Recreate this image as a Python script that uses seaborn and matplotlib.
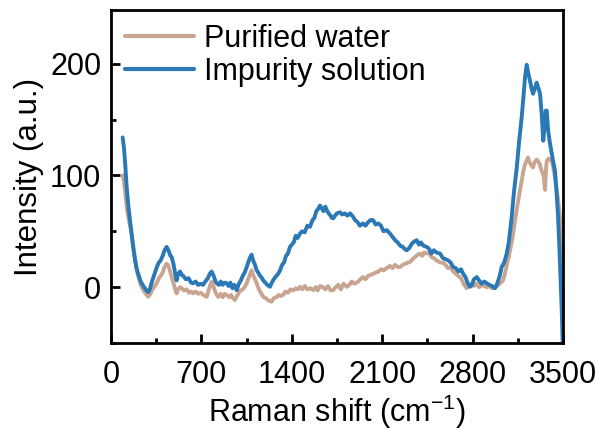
import numpy as np
import pandas as pd
import matplotlib
matplotlib.use("Agg")
import matplotlib.pyplot as plt
import seaborn as sns
from matplotlib.ticker import MultipleLocator

# ---- data ----
water_x = [90, 100, 110, 121, 135, 147, 160, 175, 190, 199, 215, 230, 250, 270, 288, 305, 320, 340, 354, 370,
           385, 400, 415, 431, 445, 460, 470, 485, 500, 508, 520, 535, 547, 565, 585, 605, 620, 636, 655, 675,
           695, 715, 741, 755, 768, 780, 795, 810, 830, 850, 865, 880, 896, 915, 930, 945, 960, 975, 990, 1005,
           1020, 1035, 1051, 1065, 1078, 1089, 1100, 1115, 1128, 1145, 1160, 1179, 1200, 1220, 1244, 1260, 1280,
           1300, 1315, 1333, 1350, 1370, 1390, 1410, 1430, 1445, 1464, 1480, 1500, 1520, 1545, 1566, 1585, 1600,
           1620, 1640, 1660, 1680, 1700, 1721, 1740, 1760, 1780, 1800, 1825, 1845, 1865, 1885, 1914, 1930, 1951,
           1970, 1990, 2010, 2029, 2050, 2070, 2090, 2110, 2135, 2160, 2180, 2200, 2220, 2238, 2260, 2280, 2300,
           2315, 2335, 2355, 2375, 2393, 2410, 2425, 2445, 2465, 2480, 2500, 2520, 2548, 2570, 2590, 2610, 2630,
           2650, 2670, 2690, 2710, 2730, 2754, 2770, 2790, 2810, 2830, 2850, 2870, 2890, 2910, 2930, 2950, 2970,
           2990, 3010, 3035, 3050, 3065, 3080, 3090, 3110, 3125, 3142, 3160, 3180, 3195, 3206, 3218, 3229, 3240,
           3255, 3268, 3280, 3295, 3306, 3320, 3335, 3350, 3361, 3368, 3374, 3390, 3400, 3412, 3425, 3438, 3450,
           3462, 3477, 3490, 3500]
water_y = [100, 95, 85, 72, 62, 55, 48, 35, 22, 15, 8, 2, -2.7, -6, -8.7, -6, -2, 1, 3.5, 8,
           10, 13, 18, 21, 19, 13, 9, 3, -3, -5.6, -2, 0, -1, -3, -2, -5, -4, -5.6, -4, -6,
           -5, -7, -8.7, -3, 2, 4.8, 0, -5, -8.7, -6, -9, -6, -7, -9, -7, -10, -11.6, -8, -5, -3,
           -2, 0, 3.5, 8, 12, 15, 11, 7, 3.5, -2, -5, -8.7, -10, -12, -13, -10, -9,
           -7, -8, -7, -4, -5, -2, -3, -1, -2, 0.3, -2, 1, -2, -1, -2.7, 0, -3,
           1, 0, -2, 1, -3, -2.7, 0, 2, -2, 3, 0.3, 2, 5, 3, 4.8, 7, 9,
           7, 10, 11, 12, 13, 14, 16, 15, 17, 19, 17, 20, 18, 18, 20, 21, 22,
           22.6, 25, 27, 29, 30, 28, 31, 30, 31, 27, 26, 24, 22, 22, 20, 17, 18,
           14, 12, 10, 8, 3, -1, 2, 3, 1, 3, 0, 2, 1, 0, 1, -1, 0,
           1, 3, 6, 12, 20, 27, 33, 45, 57, 69, 82, 95, 105, 110, 113, 116, 112,
           109, 107, 112, 114, 113, 110, 104, 100, 87, 105, 113, 115, 114, 113, 107, 98, 88,
           78, 63, 45, 25]

impurity_x = [90, 100, 110, 121, 135, 147, 160, 171, 185, 200, 210, 230, 250, 263, 275, 288, 300, 320, 340, 355,
              370, 385, 400, 415, 431, 445, 460, 470, 485, 500, 508, 520, 535, 547, 560, 580, 600, 620, 636, 655,
              675, 695, 713, 730, 750, 765, 780, 795, 810, 818, 835, 850, 865, 880, 896, 910, 925, 940, 955, 973,
              990, 1005, 1020, 1035, 1051, 1065, 1078, 1089, 1100, 1115, 1128, 1140, 1155, 1170, 1179, 1195, 1210,
              1231, 1245, 1260, 1280, 1295, 1309, 1325, 1340, 1355, 1370, 1386, 1400, 1415, 1430, 1445, 1464, 1480,
              1500, 1520, 1541, 1560, 1575, 1590, 1605, 1618, 1630, 1645, 1660, 1670, 1685, 1700, 1710, 1721, 1735,
              1750, 1773, 1790, 1810, 1830, 1851, 1874, 1890, 1910, 1928, 1951, 1970, 1990, 2010, 2029, 2050, 2070,
              2090, 2110, 2135, 2160, 2180, 2200, 2220, 2240, 2260, 2275, 2290, 2310, 2330, 2350, 2367, 2385, 2400,
              2420, 2445, 2465, 2480, 2500, 2520, 2548, 2570, 2590, 2610, 2630, 2650, 2670, 2690, 2710, 2727, 2745,
              2760, 2780, 2795, 2810, 2832, 2850, 2870, 2890, 2909, 2930, 2950, 2974, 2990, 3010, 3025, 3045, 3064,
              3080, 3090, 3103, 3120, 3142, 3160, 3180, 3195, 3206, 3219, 3230, 3244, 3256, 3268, 3280, 3296, 3310,
              3322, 3335, 3347, 3358, 3367, 3374, 3385, 3400, 3420, 3438, 3450, 3462, 3472, 3482, 3490, 3497, 3500]
impurity_y = [134, 125, 110, 90, 72, 60, 47, 36, 25, 16, 12, 5, 1, -1, -3, -4.5, -2, 6, 13, 18,
              22, 24, 28, 33, 36, 33, 28, 27, 20, 10, 6, 12, 14, 11, 10, 7, 8, 4, 3.5, 5,
              2, 3, 2, 5, 8, 12, 14, 10, 5, 3.5, 2, 5, 2, 4, 3.5, 1, 4, -1, 2, -2.7,
              3, 6, 10, 13, 18, 23, 27, 29, 24, 20, 15, 13, 10, 8, 6, 4, 2,
              0.3, 4, 7, 10, 12, 15, 20, 22, 28, 30, 36, 38, 40, 46, 44, 48, 50,
              49, 55, 54, 60, 62, 68, 70, 73, 71, 68, 72, 69, 66, 64, 62, 61.6, 64,
              66, 67, 65, 66, 64, 66, 63, 60, 58, 55, 57, 55, 58, 60, 60, 56, 57,
              55, 50, 51, 48, 45, 42, 40, 37, 36, 34, 33, 35, 39, 41, 42, 38, 40,
              37, 36, 34, 30, 33, 31, 30, 26, 25, 24, 22, 18, 17, 14, 16, 12, 9,
              4, 0.3, 2, 7, 9, 6, 3, 5, 3.5, 2, 1, -1, 3, 10, 18, 22, 30,
              40, 50, 63, 85, 107, 130, 152, 172, 188, 199, 192, 185, 178, 173, 177, 183, 178,
              173, 155, 131, 145, 158, 158, 140, 128, 115, 104, 85, 63, 35, 3.5, -20, -50, -60]

labels = ["Purified water", "Impurity solution"]
colors = ["#c8a591", "#2a78b6"]

df = pd.concat([
    pd.DataFrame({"shift": water_x, "intensity": water_y, "sample": labels[0]}),
    pd.DataFrame({"shift": impurity_x, "intensity": impurity_y, "sample": labels[1]}),
], ignore_index=True)

sns.set_style("ticks")
plt.rcParams["font.family"] = ["Liberation Sans", "DejaVu Sans"]
plt.rcParams["mathtext.fontset"] = "custom"
plt.rcParams["mathtext.rm"] = "Liberation Sans"
plt.rcParams["mathtext.it"] = "Liberation Sans:italic"
plt.rcParams["text.color"] = "black"
plt.rcParams["axes.labelcolor"] = "black"
plt.rcParams["xtick.color"] = "black"
plt.rcParams["ytick.color"] = "black"

fig = plt.figure(figsize=(5.99, 4.30), dpi=100)
ax = fig.add_axes([111 / 599, 1 - 343 / 430, (563 - 111) / 599, (343 - 10) / 430])

sns.lineplot(data=df, x="shift", y="intensity", hue="sample", palette=colors,
             hue_order=labels, linewidth=2.8, ax=ax, estimator=None, sort=False)

ax.set_xlim(0, 3500)
ax.set_ylim(-50, 248)
ax.xaxis.set_major_locator(MultipleLocator(700))
ax.xaxis.set_minor_locator(MultipleLocator(350))
ax.yaxis.set_major_locator(MultipleLocator(100))
ax.yaxis.set_minor_locator(MultipleLocator(50))

for s in ax.spines.values():
    s.set_linewidth(2.0)
    s.set_color("black")
ax.tick_params(which="major", direction="in", length=6.5, width=2.0, labelsize=22,
               color="black", labelcolor="black")
ax.tick_params(which="minor", direction="in", length=3.5, width=2.0, color="black")
ax.tick_params(axis="x", which="major", pad=12)
ax.tick_params(axis="y", which="major", pad=7)

ax.set_xlabel(r"Raman shift (cm$^{-1}$)", fontsize=22, labelpad=2, color="black")
ax.set_ylabel("Intensity (a.u.)", fontsize=22.5, labelpad=4, color="black")

leg = ax.legend(loc="upper left", frameon=False, fontsize=22, handlelength=2.25,
                handletextpad=0.35, labelspacing=0.1, borderaxespad=0.15, borderpad=0.3)
for line in leg.get_lines():
    line.set_linewidth(3)
for t in leg.get_texts():
    t.set_color("black")

fig.savefig("out.png", dpi=100)
